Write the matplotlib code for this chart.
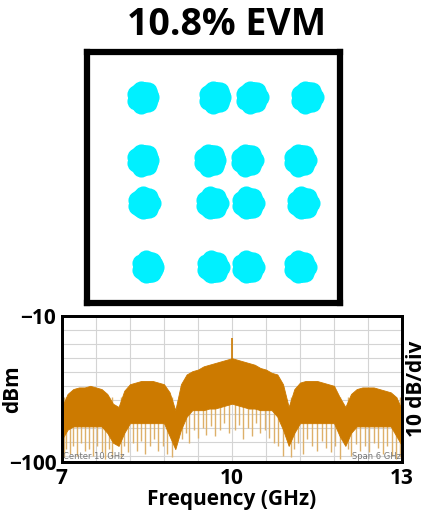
import numpy as np
import matplotlib
matplotlib.use("Agg")
import matplotlib.pyplot as plt

plt.rcParams["font.family"] = ["Open Sans", "DejaVu Sans"]

# constellation cluster centres (normalised I/Q)
const_i = [-2.01, 0.04, 1.10, 2.67,
           -2.01, -0.10, 0.96, 2.47,
           -1.96, -0.04, 0.99, 2.56,
           -1.87, -0.01, 0.99, 2.47]
const_q = [2.30, 2.30, 2.30, 2.30,
           0.50, 0.50, 0.50, 0.50,
           -0.73, -0.73, -0.73, -0.73,
           -2.56, -2.56, -2.56, -2.56]

# spectrum envelope (dBm) read every 0.1 GHz from 7 to 13 GHz
freq_ghz = [7.0, 7.1, 7.2, 7.3, 7.4, 7.5, 7.6, 7.7, 7.8, 7.9,
            8.0, 8.1, 8.2, 8.3, 8.4, 8.5, 8.6, 8.7, 8.8, 8.9,
            9.0, 9.1, 9.2, 9.3, 9.4, 9.5, 9.6, 9.7, 9.8, 9.9,
            10.0, 10.1, 10.2, 10.3, 10.4, 10.5, 10.6, 10.7, 10.8, 10.9,
            11.0, 11.1, 11.2, 11.3, 11.4, 11.5, 11.6, 11.7, 11.8, 11.9,
            12.0, 12.1, 12.2, 12.3, 12.4, 12.5, 12.6, 12.7, 12.8, 12.9,
            13.0]
top_dbm = [-66, -58, -55, -54, -54, -53, -54, -55, -58, -64,
           -66, -56, -52, -51, -50, -50, -50, -51, -52, -57,
           -68, -52, -46, -44, -43, -41, -40, -39, -38, -37,
           -36, -37, -38, -39, -40, -42, -43, -45, -46, -52,
           -66, -55, -51, -50, -50, -50, -51, -52, -53, -60,
           -66, -58, -55, -54, -54, -54, -55, -56, -57, -60,
           -68]
floor_dbm = [-86, -80, -78, -78, -78, -78, -78, -78, -82, -88,
             -90, -82, -76, -76, -76, -76, -76, -76, -76, -84,
             -92, -80, -72, -68, -68, -68, -67, -67, -66, -65,
             -64, -65, -66, -67, -67, -68, -68, -68, -72, -80,
             -90, -82, -76, -76, -76, -76, -76, -76, -76, -84,
             -90, -82, -78, -78, -78, -78, -78, -78, -78, -84,
             -90]

# light downward spikes below the dense trace
spike_ghz = [7.03, 7.08, 7.14, 7.2, 7.27, 7.33, 7.4, 7.47, 7.55, 7.62,
             7.7, 7.76, 7.83, 7.88, 8.04, 8.1, 8.17, 8.25, 8.32, 8.4,
             8.47, 8.55, 8.62, 8.7, 8.78, 8.86, 8.94, 9.12, 9.18, 9.25,
             9.33, 9.4, 9.48, 9.55, 9.63, 9.7, 9.78, 9.86, 9.94, 10.06,
             10.13, 10.2, 10.28, 10.36, 10.43, 10.5, 10.58, 10.66, 10.74, 10.82,
             10.9, 11.04, 11.1, 11.17, 11.25, 11.33, 11.41, 11.5, 11.58, 11.66,
             11.74, 11.82, 11.9, 12.04, 12.1, 12.18, 12.26, 12.34, 12.42, 12.5,
             12.58, 12.66, 12.74, 12.82, 12.9, 12.97]
spike_dbm = [-97, -92, -95, -90, -96, -88, -93, -92, -96, -90,
             -94, -98, -92, -97, -97, -90, -94, -88, -93, -87,
             -95, -90, -86, -93, -90, -95, -97, -86, -82, -88,
             -80, -85, -79, -83, -78, -84, -80, -76, -82, -80,
             -77, -86, -79, -84, -76, -82, -80, -85, -88, -90,
             -96, -97, -92, -88, -95, -86, -90, -93, -87, -91,
             -94, -90, -98, -92, -96, -89, -93, -90, -94, -88,
             -91, -95, -90, -96, -98, -97]

carrier_ghz = 10.0
carrier_dbm = -23.5

fig = plt.figure(figsize=(4.3, 5.24), dpi=100)
fig.text(0.528, 0.952, "10.8% EVM", ha="center", va="center",
         fontsize=27, fontweight="bold")

# constellation panel
ax_c = fig.add_axes([0.202, 0.4218, 0.588, 0.479])
ang = np.linspace(0, 2 * np.pi, 8)[:-1]
for ci, cq in zip(const_i, const_q):
    ax_c.scatter([ci], [cq], s=500, color="#00F0FF", lw=0, zorder=2)
    ax_c.scatter(ci + 0.22 * np.cos(ang), cq + 0.22 * np.sin(ang),
                 s=170, color="#00F0FF", lw=0, zorder=2)
ax_c.set_xlim(-3.6, 3.6)
ax_c.set_ylim(-3.6, 3.6)
ax_c.set_xticks([])
ax_c.set_yticks([])
for sp in ax_c.spines.values():
    sp.set_linewidth(4.5)

# spectrum panel
ax_s = fig.add_axes([0.144, 0.118, 0.791, 0.279])
ax_s.set_xlim(7, 13)
ax_s.set_ylim(-100, -10)
for gx in np.arange(7.6, 12.9, 0.6):
    ax_s.axvline(gx, color="#d4d4d4", lw=0.8, zorder=0)
for gy in np.arange(-18.6, -99, -8.6):
    ax_s.axhline(gy, color="#d4d4d4", lw=0.8, zorder=0)
ax_s.vlines(spike_ghz, -60, spike_dbm, color="#DDB06A", lw=1.0, zorder=1)
ax_s.fill_between(freq_ghz, floor_dbm, top_dbm, color="#CC7A00", lw=0.6,
                  zorder=2)
ax_s.vlines([carrier_ghz], -40, [carrier_dbm], color="#CC7A00", lw=1.2,
            zorder=2)
ax_s.text(7.02, -99.5, "Center 10 GHz", fontsize=6, color="#777777",
          ha="left", va="bottom", family="DejaVu Sans")
ax_s.text(12.98, -99.5, "Span 6 GHz", fontsize=6, color="#777777",
          ha="right", va="bottom", family="DejaVu Sans")
ax_s.set_xticks([7, 10, 13])
ax_s.set_yticks([-10, -100])
ax_s.tick_params(length=0, labelsize=15, pad=4)
for lab in ax_s.get_xticklabels() + ax_s.get_yticklabels():
    lab.set_fontweight("bold")
ax_s.set_xlabel("Frequency (GHz)", fontsize=15, fontweight="bold", labelpad=0)
ax_s.set_ylabel("dBm", fontsize=15, fontweight="bold", labelpad=-10)
ax_r = ax_s.twinx()
ax_r.set_yticks([])
ax_r.set_ylabel("10 dB/div", fontsize=15, fontweight="bold", labelpad=3)
for sp in list(ax_s.spines.values()) + list(ax_r.spines.values()):
    sp.set_linewidth(2)

fig.savefig("out.png", dpi=100)
